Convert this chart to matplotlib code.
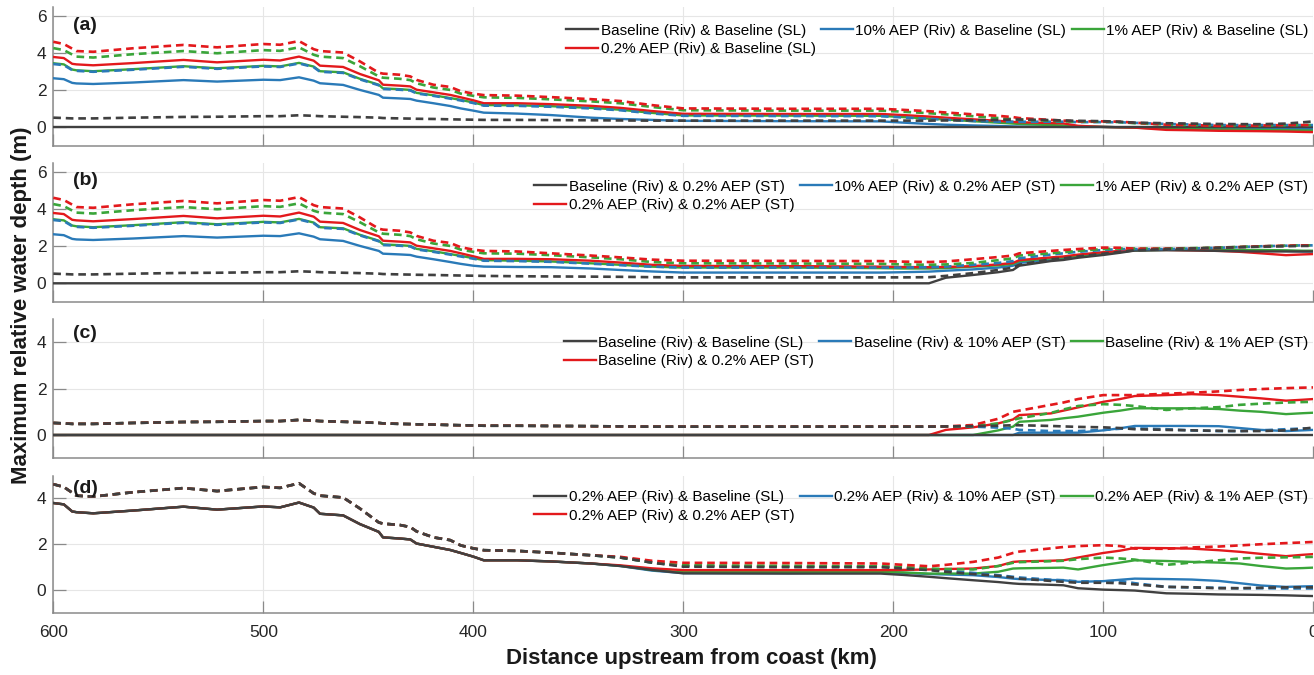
import matplotlib
matplotlib.use("Agg")
import matplotlib.pyplot as plt
from matplotlib.lines import Line2D

plt.rcParams['font.family'] = ['Liberation Sans', 'DejaVu Sans']
plt.rcParams['lines.scale_dashes'] = False

# ---------------- distances (km upstream from coast) ----------------
KM_UP = [600, 595, 591, 589, 581, 562, 538, 522, 500, 492, 483, 476, 473, 462,
         454, 445, 443, 435, 430, 427, 419, 411]
KM_DN = [406, 400, 395, 379, 363, 344, 330, 315, 300, 250, 206, 195, 183, 175,
         162, 150, 143, 140, 125, 119, 112, 100, 92, 85, 70, 58, 45, 35, 25, 13, 5, 0]

# ---------------- upstream river profiles (solid = S, dashed = D) ----------------
R02_S = [3.80, 3.74, 3.43, 3.40, 3.35, 3.47, 3.64, 3.51, 3.65, 3.61, 3.82, 3.60, 3.33, 3.26,
         2.88, 2.54, 2.30, 2.25, 2.21, 2.03, 1.89, 1.75]
R02_D = [4.62, 4.50, 4.25, 4.12, 4.08, 4.27, 4.45, 4.32, 4.50, 4.46, 4.66, 4.22, 4.12, 4.04,
         3.56, 2.95, 2.90, 2.84, 2.75, 2.56, 2.30, 2.18]
R1_S = [3.46, 3.40, 3.12, 3.08, 3.03, 3.14, 3.30, 3.19, 3.32, 3.29, 3.48, 3.28, 3.03, 2.97,
        2.62, 2.30, 2.10, 2.06, 2.02, 1.86, 1.73, 1.58]
R1_D = [4.28, 4.17, 3.93, 3.82, 3.77, 3.95, 4.12, 4.00, 4.17, 4.13, 4.32, 3.92, 3.82, 3.74,
        3.30, 2.75, 2.68, 2.62, 2.55, 2.38, 2.15, 2.02]
R10_S = [2.65, 2.60, 2.40, 2.37, 2.34, 2.42, 2.55, 2.47, 2.57, 2.55, 2.70, 2.52, 2.38, 2.29,
         2.02, 1.75, 1.60, 1.56, 1.53, 1.44, 1.30, 1.15]
R10_D = [3.42, 3.36, 3.09, 3.05, 3.00, 3.11, 3.27, 3.16, 3.29, 3.26, 3.45, 3.25, 3.00, 2.94,
         2.59, 2.27, 2.07, 2.03, 1.99, 1.83, 1.70, 1.55]
BASE_S = [0.00, 0.00, 0.00, 0.00, 0.00, 0.00, 0.00, 0.00, 0.00, 0.00, 0.00, 0.00, 0.00, 0.00,
          0.00, 0.00, 0.00, 0.00, 0.00, 0.00, 0.00, 0.00]
BASE_D = [0.52, 0.50, 0.48, 0.48, 0.48, 0.52, 0.56, 0.57, 0.60, 0.60, 0.65, 0.62, 0.60, 0.57,
          0.55, 0.52, 0.50, 0.48, 0.47, 0.46, 0.45, 0.43]

# ---------------- downstream values, panel (a) ----------------
A_BLK_S = [0.00, 0.00, 0.00, 0.00, 0.00, 0.00, 0.00, 0.00, 0.00, 0.00, 0.00, 0.00, 0.00, 0.00, 0.00, 0.00,
           0.00, 0.00, 0.00, 0.00, 0.00, 0.00, 0.00, 0.00, 0.00, 0.00, 0.00, 0.00, 0.00, 0.00, 0.00, 0.00]
A_BLK_D = [0.42, 0.41, 0.40, 0.40, 0.39, 0.38, 0.37, 0.36, 0.36, 0.36, 0.36, 0.36, 0.36, 0.37, 0.38, 0.40,
           0.42, 0.42, 0.39, 0.37, 0.35, 0.33, 0.30, 0.25, 0.22, 0.20, 0.18, 0.17, 0.17, 0.20, 0.27, 0.32]
A_BLU_S = [1.02, 0.90, 0.79, 0.74, 0.66, 0.52, 0.45, 0.40, 0.35, 0.33, 0.32, 0.25, 0.18, 0.14, 0.10, 0.07,
           0.05, 0.04, 0.03, 0.02, 0.02, 0.02, 0.00, 0.00, -0.02, -0.05, -0.06, -0.07, -0.08, -0.10, -0.10, -0.10]
A_BLU_D = [1.45, 1.31, 1.17, 1.16, 1.11, 1.02, 0.92, 0.75, 0.62, 0.61, 0.60, 0.53, 0.46, 0.41, 0.34, 0.30,
           0.30, 0.30, 0.30, 0.30, 0.28, 0.28, 0.27, 0.24, 0.18, 0.15, 0.12, 0.12, 0.12, 0.12, 0.12, 0.12]
A_GRN_S = [1.48, 1.34, 1.20, 1.19, 1.14, 1.05, 0.95, 0.78, 0.64, 0.63, 0.62, 0.55, 0.47, 0.42, 0.33, 0.25,
           0.20, 0.18, 0.12, 0.10, 0.05, 0.02, 0.00, -0.02, -0.08, -0.10, -0.12, -0.13, -0.14, -0.16, -0.17, -0.18]
A_GRN_D = [1.82, 1.70, 1.62, 1.59, 1.51, 1.40, 1.30, 1.10, 0.92, 0.90, 0.90, 0.84, 0.76, 0.70, 0.60, 0.50,
           0.44, 0.42, 0.35, 0.32, 0.30, 0.30, 0.28, 0.22, 0.15, 0.12, 0.10, 0.10, 0.10, 0.12, 0.12, 0.12]
A_RED_S = [1.62, 1.46, 1.30, 1.30, 1.25, 1.16, 1.05, 0.88, 0.73, 0.72, 0.72, 0.66, 0.58, 0.52, 0.43, 0.35,
           0.29, 0.27, 0.23, 0.21, 0.08, 0.02, 0.00, -0.02, -0.14, -0.16, -0.19, -0.20, -0.21, -0.23, -0.25, -0.26]
A_RED_D = [1.95, 1.82, 1.74, 1.71, 1.63, 1.52, 1.42, 1.20, 1.02, 1.00, 1.00, 0.94, 0.87, 0.80, 0.70, 0.62,
           0.55, 0.50, 0.40, 0.36, 0.32, 0.32, 0.30, 0.25, 0.14, 0.12, 0.08, 0.08, 0.10, 0.12, 0.12, 0.12]

# ---------------- downstream values, panel (b) ----------------
B_BLK_S = [0.00, 0.00, 0.00, 0.00, 0.00, 0.00, 0.00, 0.00, 0.00, 0.00, 0.00, 0.00, 0.00, 0.30, 0.45, 0.60,
           0.72, 0.95, 1.20, 1.26, 1.38, 1.53, 1.65, 1.77, 1.80, 1.78, 1.75, 1.73, 1.72, 1.72, 1.72, 1.72]
B_BLK_D = [0.42, 0.41, 0.40, 0.38, 0.37, 0.36, 0.35, 0.33, 0.32, 0.32, 0.32, 0.32, 0.33, 0.40, 0.55, 0.72,
           0.85, 1.00, 1.30, 1.35, 1.45, 1.60, 1.70, 1.78, 1.85, 1.88, 1.92, 1.95, 1.98, 2.00, 2.02, 2.02]
B_BLU_S = [1.05, 0.95, 0.90, 0.88, 0.87, 0.80, 0.72, 0.64, 0.58, 0.58, 0.58, 0.60, 0.63, 0.68, 0.75, 0.85,
           0.95, 1.10, 1.28, 1.33, 1.45, 1.60, 1.70, 1.78, 1.80, 1.80, 1.80, 1.80, 1.78, 1.75, 1.72, 1.72]
B_BLU_D = [1.45, 1.33, 1.22, 1.20, 1.16, 1.06, 0.98, 0.90, 0.85, 0.85, 0.85, 0.85, 0.87, 0.90, 1.00, 1.10,
           1.20, 1.35, 1.55, 1.62, 1.70, 1.80, 1.85, 1.85, 1.85, 1.88, 1.92, 1.96, 2.00, 2.03, 2.05, 2.05]
B_GRN_S = [1.48, 1.36, 1.25, 1.22, 1.18, 1.08, 1.00, 0.90, 0.85, 0.85, 0.82, 0.80, 0.80, 0.82, 0.90, 0.97,
           1.05, 1.20, 1.35, 1.40, 1.50, 1.65, 1.72, 1.78, 1.80, 1.80, 1.80, 1.80, 1.80, 1.78, 1.76, 1.76]
B_GRN_D = [1.82, 1.70, 1.62, 1.60, 1.52, 1.40, 1.30, 1.15, 1.08, 1.07, 1.05, 1.02, 1.00, 1.02, 1.10, 1.25,
           1.35, 1.50, 1.62, 1.68, 1.75, 1.85, 1.88, 1.88, 1.88, 1.90, 1.93, 1.97, 2.00, 2.03, 2.05, 2.05]
B_RED_S = [1.62, 1.46, 1.32, 1.32, 1.30, 1.22, 1.12, 1.00, 0.94, 0.93, 0.90, 0.88, 0.87, 0.88, 0.93, 1.02,
           1.10, 1.25, 1.40, 1.45, 1.55, 1.68, 1.75, 1.80, 1.80, 1.78, 1.75, 1.70, 1.62, 1.52, 1.56, 1.58]
B_RED_D = [1.95, 1.82, 1.75, 1.72, 1.62, 1.50, 1.40, 1.28, 1.22, 1.21, 1.20, 1.17, 1.15, 1.18, 1.30, 1.42,
           1.50, 1.62, 1.75, 1.80, 1.85, 1.93, 1.92, 1.87, 1.87, 1.88, 1.92, 1.96, 2.00, 2.03, 2.05, 2.05]

# ---------------- downstream values, panel (c) ----------------
C_BLK_S = A_BLK_S
C_BLK_D = A_BLK_D
C_BLU_S = [0.00, 0.00, 0.00, 0.00, 0.00, 0.00, 0.00, 0.00, 0.00, 0.00, 0.00, 0.00, 0.00, 0.00, 0.00, 0.00,
           0.00, 0.10, 0.10, 0.10, 0.10, 0.20, 0.29, 0.39, 0.39, 0.39, 0.38, 0.30, 0.22, 0.17, 0.20, 0.22]
C_BLU_D = [0.42, 0.41, 0.40, 0.40, 0.39, 0.38, 0.37, 0.36, 0.36, 0.36, 0.36, 0.36, 0.36, 0.37, 0.36, 0.32,
           0.27, 0.22, 0.17, 0.17, 0.17, 0.22, 0.27, 0.29, 0.25, 0.20, 0.17, 0.17, 0.20, 0.25, 0.28, 0.29]
C_GRN_S = [0.00, 0.00, 0.00, 0.00, 0.00, 0.00, 0.00, 0.00, 0.00, 0.00, 0.00, 0.00, 0.00, 0.00, 0.00, 0.20,
           0.36, 0.57, 0.65, 0.72, 0.79, 0.96, 1.05, 1.15, 1.15, 1.15, 1.12, 1.05, 1.00, 0.90, 0.94, 0.96]
C_GRN_D = [0.42, 0.41, 0.40, 0.40, 0.39, 0.38, 0.37, 0.36, 0.36, 0.36, 0.36, 0.36, 0.36, 0.37, 0.38, 0.50,
           0.65, 0.72, 0.95, 1.10, 1.25, 1.33, 1.30, 1.25, 1.08, 1.15, 1.20, 1.30, 1.35, 1.40, 1.42, 1.43]
C_RED_S = [0.00, 0.00, 0.00, 0.00, 0.00, 0.00, 0.00, 0.00, 0.00, 0.00, 0.00, 0.00, 0.00, 0.22, 0.33, 0.50,
           0.67, 0.86, 0.93, 1.05, 1.19, 1.43, 1.55, 1.68, 1.72, 1.76, 1.72, 1.65, 1.58, 1.48, 1.52, 1.55]
C_RED_D = [0.42, 0.41, 0.40, 0.40, 0.39, 0.38, 0.37, 0.36, 0.36, 0.36, 0.36, 0.36, 0.36, 0.37, 0.43, 0.70,
           1.00, 1.05, 1.30, 1.40, 1.55, 1.72, 1.72, 1.72, 1.78, 1.82, 1.88, 1.94, 1.98, 2.02, 2.04, 2.05]

# ---------------- downstream values, panel (d) ----------------
D_BLK_S = A_RED_S
D_BLK_D = A_RED_D
D_BLU_S = [1.62, 1.46, 1.30, 1.30, 1.25, 1.16, 1.05, 0.85, 0.74, 0.74, 0.78, 0.75, 0.70, 0.68, 0.65, 0.57,
           0.50, 0.48, 0.44, 0.43, 0.36, 0.39, 0.45, 0.50, 0.48, 0.46, 0.40, 0.30, 0.20, 0.14, 0.16, 0.17]
D_BLU_D = [1.95, 1.82, 1.74, 1.71, 1.63, 1.52, 1.42, 1.20, 1.05, 1.02, 1.02, 0.98, 0.90, 0.85, 0.75, 0.65,
           0.58, 0.55, 0.45, 0.43, 0.38, 0.38, 0.40, 0.30, 0.14, 0.12, 0.10, 0.08, 0.08, 0.07, 0.07, 0.07]
D_GRN_S = [1.62, 1.46, 1.30, 1.30, 1.25, 1.16, 1.06, 0.88, 0.78, 0.78, 0.80, 0.77, 0.72, 0.72, 0.72, 0.80,
           0.94, 0.95, 0.97, 0.98, 0.90, 1.09, 1.20, 1.30, 1.27, 1.23, 1.20, 1.16, 1.05, 0.94, 0.96, 0.98]
D_GRN_D = [1.95, 1.82, 1.74, 1.71, 1.63, 1.52, 1.42, 1.20, 1.08, 1.06, 1.04, 1.00, 0.94, 0.92, 0.90, 1.05,
           1.19, 1.22, 1.26, 1.28, 1.35, 1.42, 1.38, 1.33, 1.10, 1.20, 1.30, 1.38, 1.41, 1.43, 1.44, 1.45]
D_RED_S = [1.62, 1.46, 1.30, 1.30, 1.25, 1.16, 1.08, 0.95, 0.87, 0.87, 0.87, 0.88, 0.90, 0.92, 0.94, 1.05,
           1.23, 1.25, 1.28, 1.30, 1.42, 1.62, 1.72, 1.84, 1.83, 1.81, 1.74, 1.67, 1.58, 1.48, 1.54, 1.57]
D_RED_D = [1.95, 1.82, 1.74, 1.71, 1.63, 1.52, 1.45, 1.28, 1.19, 1.18, 1.16, 1.10, 1.04, 1.10, 1.23, 1.42,
           1.62, 1.68, 1.82, 1.88, 1.92, 1.96, 1.92, 1.81, 1.80, 1.86, 1.90, 1.95, 2.00, 2.05, 2.08, 2.10]

# ---------------- legends / labels ----------------
LEGENDS = {
    'a': ['Baseline (Riv) & Baseline (SL)', '10% AEP (Riv) & Baseline (SL)',
          '1% AEP (Riv) & Baseline (SL)', '0.2% AEP (Riv) & Baseline (SL)'],
    'b': ['Baseline (Riv) & 0.2% AEP (ST)', '10% AEP (Riv) & 0.2% AEP (ST)',
          '1% AEP (Riv) & 0.2% AEP (ST)', '0.2% AEP (Riv) & 0.2% AEP (ST)'],
    'c': ['Baseline (Riv) & Baseline (SL)', 'Baseline (Riv) & 10% AEP (ST)',
          'Baseline (Riv) & 1% AEP (ST)', 'Baseline (Riv) & 0.2% AEP (ST)'],
    'd': ['0.2% AEP (Riv) & Baseline (SL)', '0.2% AEP (Riv) & 10% AEP (ST)',
          '0.2% AEP (Riv) & 1% AEP (ST)', '0.2% AEP (Riv) & 0.2% AEP (ST)'],
}
X_TICKS = [600, 500, 400, 300, 200, 100, 0]
Y_LABEL = 'Maximum relative water depth (m)'
X_LABEL = 'Distance upstream from coast (km)'

COLORS = {'blk': '#404040', 'blu': '#2a7ab8', 'grn': '#3aa53a', 'red': '#e3191c'}

# panel -> color -> (upstream solid, upstream dashed, downstream solid, downstream dashed)
PANELS = {
    'a': {'blk': (BASE_S, BASE_D, A_BLK_S, A_BLK_D), 'blu': (R10_S, R10_D, A_BLU_S, A_BLU_D),
          'grn': (R1_S, R1_D, A_GRN_S, A_GRN_D), 'red': (R02_S, R02_D, A_RED_S, A_RED_D)},
    'b': {'blk': (BASE_S, BASE_D, B_BLK_S, B_BLK_D), 'blu': (R10_S, R10_D, B_BLU_S, B_BLU_D),
          'grn': (R1_S, R1_D, B_GRN_S, B_GRN_D), 'red': (R02_S, R02_D, B_RED_S, B_RED_D)},
    'c': {'blk': (BASE_S, BASE_D, C_BLK_S, C_BLK_D), 'blu': (BASE_S, BASE_D, C_BLU_S, C_BLU_D),
          'grn': (BASE_S, BASE_D, C_GRN_S, C_GRN_D), 'red': (BASE_S, BASE_D, C_RED_S, C_RED_D)},
    'd': {'blk': (R02_S, R02_D, D_BLK_S, D_BLK_D), 'blu': (R02_S, R02_D, D_BLU_S, D_BLU_D),
          'grn': (R02_S, R02_D, D_GRN_S, D_GRN_D), 'red': (R02_S, R02_D, D_RED_S, D_RED_D)},
}
YLIMS = {'a': (-1, 6.5), 'b': (-1, 6.5), 'c': (-1, 5), 'd': (-1, 5)}
YTICKS = {'a': [0, 2, 4, 6], 'b': [0, 2, 4, 6], 'c': [0, 2, 4], 'd': [0, 2, 4]}

# axes rectangles [left, bottom, width, height] in figure fraction
W, H = 1314, 675
LEFT = 53.3 / W
WIDTH = 1260 / W
RECTS = {'a': (7.0, 145.8), 'b': (163.0, 301.8), 'c': (319.0, 458.2), 'd': (475.5, 613.0)}
LABEL_Y = {'a': 0.87, 'b': 0.875, 'c': 0.895, 'd': 0.905}
LEG_Y = {'a': 0.88, 'b': 0.88, 'c': 0.88, 'd': 0.895}

fig = plt.figure(figsize=(W / 100, H / 100), dpi=100)
km = KM_UP + KM_DN
order = ['blu', 'grn', 'red', 'blk']
axes = []
for key in ['a', 'b', 'c', 'd']:
    top, bot = RECTS[key]
    ax = fig.add_axes([LEFT, 1 - bot / H, WIDTH, (bot - top) / H])
    axes.append(ax)
    data = PANELS[key]
    for c in order:
        us, ud, ds, dd = data[c]
        ax.plot(km, us + ds, color=COLORS[c], lw=1.7, solid_joinstyle='round', zorder=3)
    for c in order:
        us, ud, ds, dd = data[c]
        ax.plot(km, ud + dd, color=COLORS[c], lw=1.9, linestyle=(0, (5.5, 3.5)), zorder=3)
    ax.set_xlim(600, 0)
    ax.set_ylim(*YLIMS[key])
    ax.set_yticks(YTICKS[key])
    ax.set_xticks(X_TICKS)
    ax.grid(True, color='#e6e6e6', lw=0.8, zorder=0)
    ax.set_axisbelow(True)
    for s in ['top', 'right']:
        ax.spines[s].set_visible(False)
    for s in ['left', 'bottom']:
        ax.spines[s].set_color('#8a8a8a')
        ax.spines[s].set_linewidth(1.1)
    ax.tick_params(direction='in', length=9, width=0.9, color='#8a8a8a',
                   labelsize=12.5, labelcolor='#262626')
    ax.tick_params(axis='x', pad=8.5)
    ax.tick_params(axis='y', pad=5)
    if key != 'd':
        ax.tick_params(labelbottom=False)
    ax.text(0.016, LABEL_Y[key], f'({key})', transform=ax.transAxes,
            fontsize=14, fontweight='bold', va='center', ha='left', color='#1a1a1a')
    labels = LEGENDS[key]
    handles = [Line2D([], [], color=COLORS[c], lw=1.7) for c in ['blk', 'blu', 'grn', 'red']]
    hd = [handles[0], handles[3], handles[1], handles[2]]
    lb = [labels[0], labels[3], labels[1], labels[2]]
    ax.legend(hd, lb, ncol=3, loc='upper right', bbox_to_anchor=(0.996, LEG_Y[key]), frameon=False,
              fontsize=11, handlelength=2.1, handletextpad=0.15, columnspacing=0.35,
              labelspacing=0.3, borderpad=0, borderaxespad=0)

fig.text(0.0165, 0.548, Y_LABEL, rotation=90, fontsize=16, fontweight='bold',
         ha='center', va='center', color='#1a1a1a')
fig.text(0.526, 0.024, X_LABEL, fontsize=16, fontweight='bold',
         ha='center', va='center', color='#1a1a1a')

fig.savefig('out.png', dpi=100)
